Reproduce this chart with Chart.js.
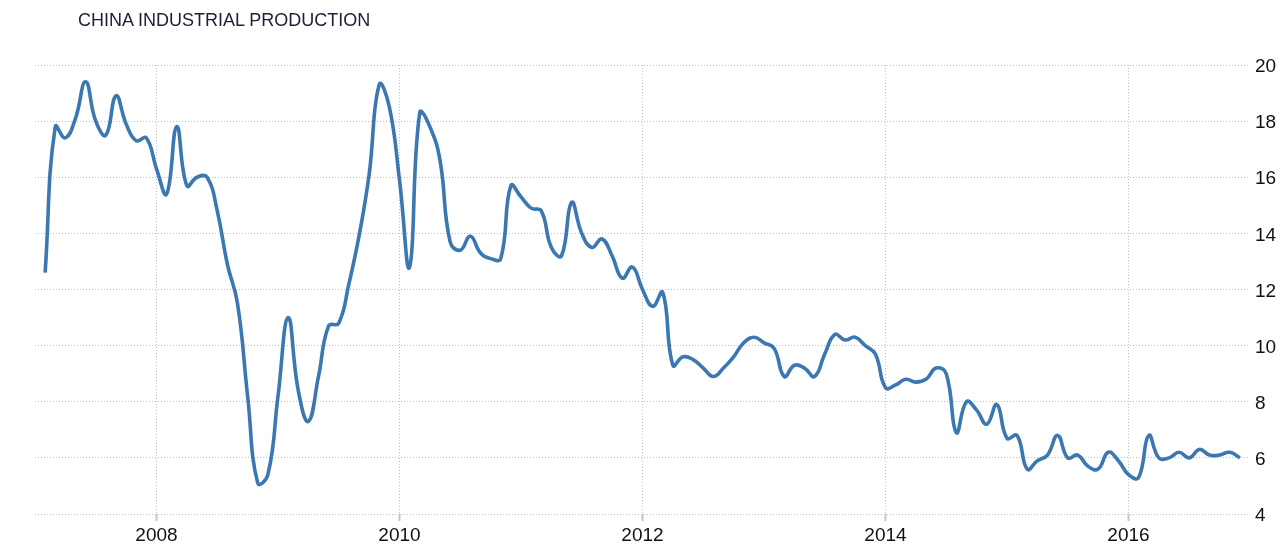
<!DOCTYPE html>
<html>
<head>
<meta charset="utf-8">
<title>China Industrial Production</title>
<script src="https://cdn.jsdelivr.net/npm/chart.js@4"></script>
<style>
  html, body { margin: 0; padding: 0; background: #fff; }
  #wrap { position: relative; width: 1280px; height: 557px; }
  #title {
    position: absolute; left: 78px; top: 11px;
    font: 18px/18px "Liberation Sans", Arial, sans-serif;
    color: #1e1e38; white-space: nowrap;
  }
  canvas { position: absolute; left: 0; top: 0; }
</style>
</head>
<body>
<div id="wrap">
  <canvas id="ipChart" width="1280" height="557"></canvas>
  <div id="title">CHINA INDUSTRIAL PRODUCTION</div>
</div>
<script>
// China industrial production, YoY %, monthly
const years = [2007, 2008, 2009, 2010, 2011, 2012, 2013, 2014, 2015, 2016];
const tickYears = ['2008', '2010', '2012', '2014', '2016'];
const yTicks = [4, 6, 8, 10, 12, 14, 16, 18, 20];

const ip2007 = [null, 12.6, 17.8, 17.4, 18.1, 19.4, 18.0, 17.5, 18.9, 17.9, 17.3, 17.4];
const ip2008 = [16.3, 15.4, 17.8, 15.7, 16.0, 16.0, 14.8, 12.9, 11.5, 8.2, 5.1, 5.4];
const ip2009 = [8.2, 11.0, 8.4, 7.3, 8.9, 10.7, 10.8, 12.2, 13.9, 16.1, 19.3, 18.5];
const ip2010 = [15.9, 12.8, 18.3, 17.8, 16.6, 13.7, 13.4, 13.9, 13.3, 13.1, 13.1, 15.7];
const ip2011 = [15.3, 14.9, 14.8, 13.5, 13.2, 15.1, 14.0, 13.5, 13.8, 13.2, 12.4, 12.8];
const ip2012 = [12.0, 11.4, 11.9, 9.3, 9.6, 9.5, 9.2, 8.9, 9.2, 9.6, 10.1, 10.3];
const ip2013 = [10.1, 9.9, 8.9, 9.3, 9.2, 8.9, 9.7, 10.4, 10.2, 10.3, 10.0, 9.7];
const ip2014 = [8.5, 8.6, 8.8, 8.7, 8.8, 9.2, 9.0, 6.9, 8.0, 7.7, 7.2, 7.9];
const ip2015 = [6.7, 6.8, 5.6, 5.9, 6.1, 6.8, 6.0, 6.1, 5.7, 5.6, 6.2, 5.9];
const ip2016 = [5.4, 5.3, 6.8, 6.0, 6.0, 6.2, 6.0, 6.3, 6.1, 6.1, 6.2, 6.0];

// month labels 2007-01 .. 2017-01 (last one empty, keeps the right edge)
const months = [];
years.forEach(y => {
  for (let m = 1; m <= 12; m++) months.push(y + '-' + String(m).padStart(2, '0'));
});
months.push('2017-01');

const values = [].concat(ip2007, ip2008, ip2009, ip2010, ip2011, ip2012,
  ip2013, ip2014, ip2015, ip2016, [null]);

const labelFont = { family: '"Liberation Sans", Arial, sans-serif', size: 19 };

const ctx = document.getElementById('ipChart').getContext('2d');
new Chart(ctx, {
  type: 'line',
  data: {
    labels: months,
    datasets: [{
      label: 'China Industrial Production',
      data: values,
      borderColor: '#3b78b1',
      borderWidth: 3.6,
      pointRadius: 0,
      pointHoverRadius: 0,
      tension: 0.45,
      fill: false
    }]
  },
  options: {
    responsive: false,
    animation: false,
    layout: { padding: { left: 35, top: 65, right: 0, bottom: 0 } },
    plugins: {
      legend: { display: false },
      title: { display: false },
      tooltip: { enabled: false }
    },
    scales: {
      x: {
        type: 'category',
        offset: false,
        grid: {
          color: '#bdbdbd',
          lineWidth: 1,
          drawTicks: true,
          tickLength: 7,
          tickColor: '#c4c4c4',
          tickWidth: 2,
          tickBorderDash: []
        },
        border: { display: false, dash: [1, 2] },
        ticks: {
          autoSkip: false,
          maxRotation: 0,
          padding: 3,
          color: '#111',
          font: labelFont,
          callback: function (value) {
            const lab = this.getLabelForValue(value);
            const [yr, mo] = lab.split('-');
            return (mo === '01' && tickYears.includes(yr)) ? yr : null;
          }
        },
        afterFit: scale => { scale.height = 43; }
      },
      y: {
        position: 'right',
        min: yTicks[0],
        max: yTicks[yTicks.length - 1],
        afterBuildTicks: scale => { scale.ticks = yTicks.map(v => ({ value: v })); },
        grid: { color: '#bdbdbd', lineWidth: 1, drawTicks: false },
        border: { display: false, dash: [1, 2] },
        ticks: {
          padding: 5,
          labelOffset: 2,
          color: '#111',
          font: labelFont
        },
        afterFit: scale => { scale.width = 30; }
      }
    }
  }
});
</script>
</body>
</html>
